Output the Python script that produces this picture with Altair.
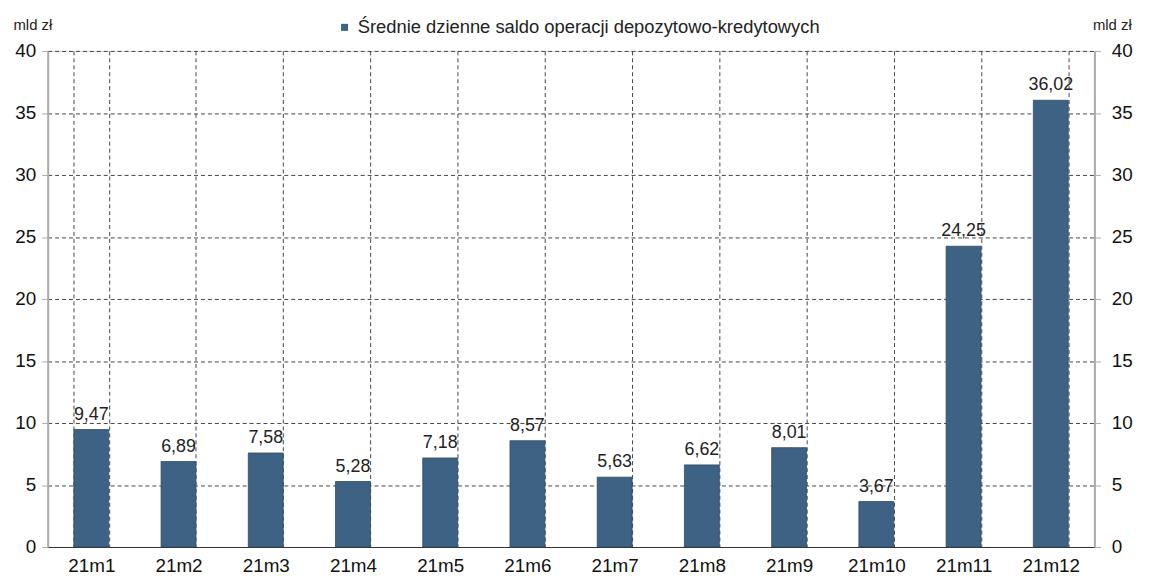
import altair as alt
import pandas as pd

categories = ["21m1", "21m2", "21m3", "21m4", "21m5", "21m6", "21m7", "21m8", "21m9", "21m10", "21m11", "21m12"]
values = [9.47, 6.89, 7.58, 5.28, 7.18, 8.57, 5.63, 6.62, 8.01, 3.67, 24.25, 36.02]
series_name = "Średnie dzienne saldo operacji depozytowo-kredytowych"
y_ticks = [0, 5, 10, 15, 20, 25, 30, 35, 40]

df = pd.DataFrame({
    "cat": categories,
    "val": values,
    "label": [f"{v:.2f}".replace(".", ",") for v in values],
    "series": [series_name] * len(values),
})

FONT = "Liberation Sans"
BAR = "#3e6283"

x = alt.X("cat:N", sort=categories, title=None,
          scale=alt.Scale(paddingInner=0.6, paddingOuter=0.3),
          axis=alt.Axis(labelAngle=0, labelFontSize=19, labelColor="#111", labelFont=FONT,
                        grid=True, gridDash=[4, 3], gridColor="#444", gridWidth=1,
                        tickBand="extent", ticks=False, domain=True, domainColor="#333",
                        labelPadding=10))

y_scale = alt.Scale(domain=[0, 40], nice=False)

bars = alt.Chart(df).mark_bar(stroke="#2e4a66", strokeWidth=0.8).encode(
    x=x,
    y=alt.Y("val:Q", scale=y_scale,
            axis=alt.Axis(values=y_ticks, orient="left", title="mld zł", titleAngle=0,
                          titleX=-35, titleY=-22, titleAlign="left", titleBaseline="alphabetic",
                          titleFontSize=15, titleFontWeight="normal", titleFont=FONT, titleColor="#222",
                          labelFontSize=19, labelFont=FONT, labelColor="#111", labelPadding=6,
                          grid=True, gridDash=[4, 3], gridColor="#444",
                          domainColor="#aaa", domainWidth=2, tickColor="#aaa", tickSize=6)),
    color=alt.Color("series:N", scale=alt.Scale(range=[BAR]),
                    legend=alt.Legend(title=None, orient="none", legendX=290, legendY=-33,
                                      symbolType="square", symbolSize=50, labelFontSize=18.5,
                                      labelFont=FONT, labelColor="#222", labelLimit=800,
                                      symbolStrokeWidth=0)),
)

labels = alt.Chart(df).mark_text(baseline="bottom", dy=-6, fontSize=18, font=FONT, color="#222").encode(
    x=alt.X("cat:N", sort=categories),
    y=alt.Y("val:Q", scale=y_scale),
    text="label:N",
)

left_layer = alt.layer(bars, labels)

right_axis = alt.Chart(df).mark_bar(opacity=0).encode(
    x=alt.X("cat:N", sort=categories),
    y=alt.Y("val:Q", scale=y_scale,
            axis=alt.Axis(values=y_ticks, orient="right", title="mld zł", titleAngle=0,
                          titleX=-2, titleY=-22, titleAlign="left", titleBaseline="alphabetic",
                          titleFontSize=15, titleFontWeight="normal", titleFont=FONT, titleColor="#222",
                          labelFontSize=19, labelFont=FONT, labelColor="#111", labelPadding=11,
                          grid=False, domainColor="#aaa", domainWidth=2, tickColor="#aaa", tickSize=6)),
)

chart = alt.layer(left_layer, right_axis).resolve_scale(y="independent").properties(
    width=1055, height=500,
    autosize=alt.AutoSizeParams(type="none"),
    padding={"left": 40, "top": 41, "right": 50, "bottom": 30},
).configure_view(stroke=None).configure(font=FONT)

chart.save("out.html", embed_options={"renderer": "svg", "actions": False})
